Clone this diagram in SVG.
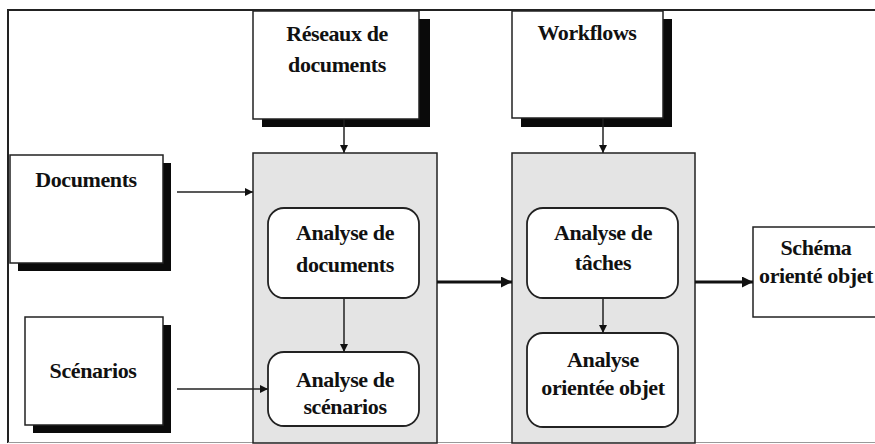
<svg xmlns="http://www.w3.org/2000/svg" width="875" height="444" viewBox="0 0 875 444">
<style>
text{font-family:"Liberation Serif","Times New Roman",serif;font-weight:bold;font-size:22px;fill:#111;text-anchor:middle;letter-spacing:-0.4px}
.box{fill:#fff;stroke:#222;stroke-width:1.5}
.shadow{fill:#0a0a0a}
.grp{fill:#e4e4e4;stroke:#222;stroke-width:1.5}
.rbox{fill:#fff;stroke:#222;stroke-width:1.8}
.thin{stroke:#222;stroke-width:1.5;fill:none;marker-end:url(#ah)}
.thick{stroke:#111;stroke-width:3.2;fill:none;marker-end:url(#ahb)}
</style>
<defs>
<marker id="ah" viewBox="0 0 10 10" refX="10" refY="5" markerWidth="8" markerHeight="8" markerUnits="userSpaceOnUse" orient="auto"><path d="M0,0 L10,5 L0,10 z" fill="#111"/></marker>
<marker id="ahb" viewBox="0 0 10 10" refX="10" refY="5" markerWidth="11" markerHeight="11" markerUnits="userSpaceOnUse" orient="auto"><path d="M0,0 L10,5 L0,10 z" fill="#111"/></marker>
</defs>
<rect width="875" height="444" fill="#fff"/>
<g id="frame">
<path d="M8,443 L8,10 L875,10" fill="none" stroke="#222" stroke-width="2"/>
<path d="M8,442.5 L875,442.5" fill="none" stroke="#999" stroke-width="1"/>
</g>
<g id="groupe1"><rect class="grp" x="253" y="153" width="184" height="290"/></g>
<g id="groupe2"><rect class="grp" x="512" y="153" width="183" height="290"/></g>
<g id="reseaux">
<rect class="shadow" x="262" y="19" width="168" height="108"/>
<rect class="box" x="253" y="11" width="166" height="108"/>
<text x="337" y="41">Réseaux de</text>
<text x="337" y="72">documents</text>
</g>
<g id="workflows">
<rect class="shadow" x="521" y="19" width="151" height="108"/>
<rect class="box" x="512" y="11" width="151" height="107"/>
<text x="587" y="40">Workflows</text>
</g>
<g id="documents">
<rect class="shadow" x="18" y="163" width="153" height="108"/>
<rect class="box" x="10" y="155" width="153" height="108"/>
<text x="86" y="187">Documents</text>
</g>
<g id="scenarios">
<rect class="shadow" x="33" y="325" width="138" height="108"/>
<rect class="box" x="25" y="317" width="138" height="108"/>
<text x="93" y="378">Scénarios</text>
</g>
<g id="analyse-documents">
<rect class="rbox" x="268" y="208" width="151" height="90" rx="16"/>
<text x="345" y="240">Analyse de</text>
<text x="345" y="272">documents</text>
</g>
<g id="analyse-scenarios">
<rect class="rbox" x="268" y="352" width="151" height="74" rx="16"/>
<text x="345" y="387">Analyse de</text>
<text x="345" y="414">scénarios</text>
</g>
<g id="analyse-taches">
<rect class="rbox" x="527" y="208" width="151" height="90" rx="16"/>
<text x="603" y="240">Analyse de</text>
<text x="603" y="270">tâches</text>
</g>
<g id="analyse-objet">
<rect class="rbox" x="527" y="333" width="151" height="94" rx="16"/>
<text x="603" y="367">Analyse</text>
<text x="603" y="395">orientée objet</text>
</g>
<g id="schema">
<rect class="box" x="753" y="227" width="125" height="90"/>
<text x="816" y="255">Schéma</text>
<text x="816" y="283">orienté objet</text>
</g>
<g id="connectors">
<path class="thin" d="M344,119 L344,153"/>
<path class="thin" d="M603,118 L603,153"/>
<path class="thin" d="M177,192 L253,192"/>
<path class="thin" d="M177,389 L268,389"/>
<path class="thin" d="M344,298 L344,352"/>
<path class="thin" d="M603,298 L603,333"/>
<path class="thick" d="M437,282 L512,282"/>
<path class="thick" d="M695,282 L753,282"/>
</g>
</svg>
